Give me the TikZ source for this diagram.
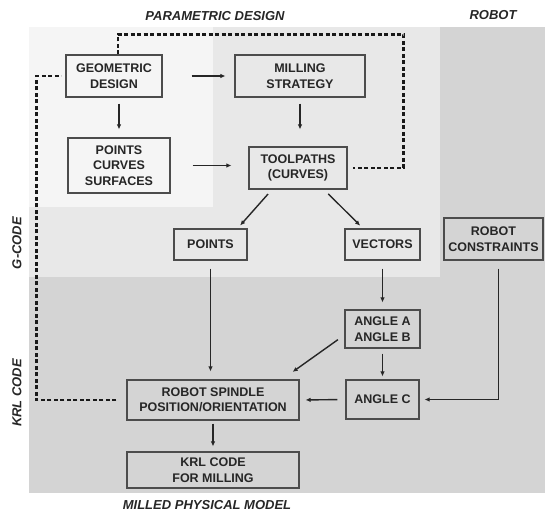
\documentclass[tikz,border=0pt]{standalone}
\usepackage{fontspec}
\setmainfont{Liberation Sans}
\usetikzlibrary{arrows.meta}

\begin{document}
\begin{tikzpicture}[x=1pt,y=-1pt,>=Latex,
  box/.style={draw=black!70,line width=1.1pt,align=center,font=\fontsize{12.5}{15.5}\selectfont\bfseries,text=black!85,inner sep=0pt},
  lbl/.style={font=\fontsize{13}{15}\selectfont\bfseries\itshape,text=black!85,inner sep=0pt},
  arr/.style={-{Latex[length=5pt,width=4.5pt]},line width=1.4pt,draw=black!85},
  link/.style={line width=2.3pt,dash pattern=on 4pt off 2.5pt,draw=black!90}]
\useasboundingbox (0,0) rectangle (545,514);
\fill[black!17] (29,27) rectangle (545,493);
\fill[black!9] (29,27) rectangle (440,277);
\fill[black!4] (29,27) rectangle (213,207);
\node[box,minimum width=96,minimum height=42] (geo_des) at (114,76) {GEOMETRIC\\DESIGN};
\node[box,minimum width=130,minimum height=42] (mill_str) at (300,76) {MILLING\\STRATEGY};
\node[box,minimum width=102,minimum height=55] (pts_crv) at (119,165.5) {POINTS\\CURVES\\SURFACES};
\node[box,minimum width=98,minimum height=42] (tool) at (298,168) {TOOLPATHS\\(CURVES)};
\node[box,minimum width=73,minimum height=31] (pts) at (210.5,244.5) {POINTS};
\node[box,minimum width=75,minimum height=31] (vec) at (382.5,244.5) {VECTORS};
\node[box,minimum width=99,minimum height=42] (rob_con) at (493.5,239) {ROBOT\\CONSTRAINTS};
\node[box,minimum width=75,minimum height=38] (ang_ab) at (382.5,329) {ANGLE A\\ANGLE B};
\node[box,minimum width=73,minimum height=39] (ang_c) at (382.5,399.5) {ANGLE C};
\node[box,minimum width=172,minimum height=40] (spindle) at (213,400) {ROBOT SPINDLE\\POSITION/ORIENTATION};
\node[box,minimum width=172,minimum height=36] (krl) at (213,470) {KRL CODE\\FOR MILLING};
\node[lbl] (par_des) at (215,16) {PARAMETRIC DESIGN};
\node[lbl] (robot) at (493,15) {ROBOT};
\node[lbl,rotate=90] (g_code) at (17,243) {G-CODE};
\node[lbl,rotate=90] (krl_code) at (17,393) {KRL CODE};
\node[lbl] (milled) at (207,505) {MILLED PHYSICAL MODEL};
\draw[arr,shorten <=29pt,shorten >=9pt] (geo_des.east) -- (mill_str.west);
\draw[arr,shorten <=6pt,shorten >=8pt] (geo_des.south -| pts_crv.north) -- (pts_crv.north);
\draw[arr,shorten <=6pt,shorten >=17pt] (mill_str.south) -- (mill_str.south |- tool.north);
\draw[arr,shorten <=22pt,shorten >=17pt] (pts_crv.east) -- (tool.west |- pts_crv.east);
\draw[arr,shorten <=6pt,shorten >=4pt] ([xshift=-26pt]tool.south) -- ([xshift=27pt]pts.north);
\draw[arr,shorten <=6pt,shorten >=4pt] ([xshift=26pt]tool.south) -- ([xshift=-19.5pt]vec.north);
\draw[arr,shorten <=8pt,shorten >=8pt] (pts.south) -- (pts.south |- spindle.north);
\draw[arr,shorten <=8pt,shorten >=7pt] (vec.south) -- (ang_ab.north);
\draw[arr,shorten <=8pt,shorten >=13pt] ([yshift=-6pt]ang_ab.west) -- ([xshift=69pt]spindle.north);
\draw[arr,shorten <=5pt,shorten >=3pt] (ang_ab.south) -- (ang_c.north);
\draw[arr,shorten <=8pt,shorten >=6pt] (ang_c.west) -- (spindle.east);
\draw[arr,shorten <=8pt,shorten >=5pt] ([xshift=5pt]rob_con.south) |- (ang_c.east);
\draw[arr,shorten <=3pt,shorten >=5pt] (spindle.south) -- (krl.north);
\draw[link] ([xshift=-10pt]spindle.west) -| ([xshift=-29pt]geo_des.west) -- ([xshift=-4pt]geo_des.west);
\draw[link] ([xshift=4pt]geo_des.north) -- ++(0,-20) -| ([xshift=56pt]tool.east) -- ([xshift=5pt]tool.east);
\end{tikzpicture}
\end{document}
